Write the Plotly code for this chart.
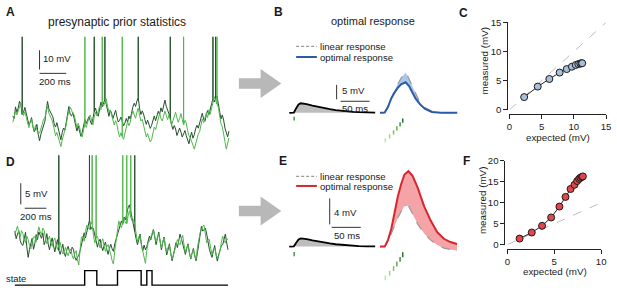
import plotly.graph_objects as go

W, H = 617, 292
FONT = "Liberation Sans, Arial, sans-serif"

# ---------------- data ----------------
# Panel A: two presynaptic membrane-potential traces (mV above rest), 10 ms steps
a_step_ms = 10
a_dark = [15.4, 14.1, 20.1, 17.2, 19.5, 23.0, 21.0, 16.2, 17.4, 19.8, 16.8, 13.0, 10.9, 12.0, 14.5, 9.9, 7.2, 8.6, 11.0, 5.8,
          2.5, 5.9, 8.1, 9.4, 12.6, 17.9, 22.9, 19.0, 17.5, 16.8, 14.9, 11.2, 9.6, 11.9, 8.8, 5.1, 3.0, 6.8, 9.1, 8.0,
          12.4, 16.9, 20.3, 16.0, 15.4, 17.1, 14.0, 9.6, 7.5, 10.2, 7.9, 4.8, 6.8, 10.8, 13.5, 11.4, 13.1, 15.0, 12.9, 11.0,
          14.0, 17.6, 19.4, 16.3, 15.2, 19.8, 22.6, 20.1, 22.0, 24.0, 21.5, 17.2, 15.2, 18.4, 16.8, 14.0, 17.0, 18.3, 14.9, 12.2,
          13.1, 14.8, 12.6, 10.2, 11.7, 14.1, 12.1, 15.3, 13.8, 17.6, 20.1, 22.0, 20.3, 23.1, 24.9, 19.2, 16.1, 18.0, 16.3, 13.4,
          11.0, 13.2, 11.2, 8.9, 10.5, 13.0, 15.4, 12.9, 15.2, 17.8, 16.1, 19.6, 17.5, 21.3, 23.6, 20.4, 18.2, 16.0, 14.5, 10.6,
          8.4, 10.4, 8.6, 5.2, 6.8, 9.1, 7.0, 4.4, 6.1, 7.8, 5.1, 2.6, 0.9, 4.3, 7.0, 3.8, 5.6, 8.7, 10.5, 9.0,
          11.2, 14.6, 16.8, 13.8, 12.6, 15.9, 18.2, 16.0, 18.2, 21.7, 24.5, 22.6, 24.5, 25.8, 22.4, 17.5, 13.8, 15.9, 13.3, 9.1,
          6.1, 4.5, 7.5]
a_light = [12.1, 16.2, 18.0, 15.9, 18.4, 20.9, 22.2, 18.1, 15.6, 17.6, 15.2, 11.4, 9.3, 12.5, 13.8, 10.1, 7.9, 10.4, 8.2, 5.9,
           6.5, 9.6, 11.0, 13.7, 14.2, 18.5, 20.1, 16.8, 15.6, 13.9, 11.7, 7.6, 5.1, 6.8, 4.0, 1.2, -0.5, 2.9, 5.4, 8.6,
           10.7, 15.2, 18.0, 19.9, 18.4, 16.4, 15.9, 11.8, 9.3, 11.6, 9.6, 6.1, 4.4, 8.2, 11.0, 9.4, 12.1, 14.3, 15.9, 12.6,
           10.7, 14.9, 17.3, 15.4, 17.7, 20.2, 18.7, 21.8, 20.5, 22.1, 24.3, 20.4, 17.7, 18.5, 15.9, 12.3, 10.7, 12.9, 11.0, 7.1,
           4.4, 6.6, 4.7, 3.2, 5.8, 9.4, 12.4, 10.3, 12.1, 15.7, 18.0, 15.9, 14.2, 17.3, 19.4, 15.6, 12.8, 13.6, 10.3, 6.9,
           4.4, 6.2, 4.0, 1.9, 3.0, 6.9, 9.6, 8.3, 11.4, 14.1, 16.6, 14.0, 12.8, 15.3, 18.0, 15.6, 13.5, 15.8, 13.1, 10.6,
           12.8, 15.9, 17.3, 14.4, 12.1, 14.0, 16.6, 13.5, 10.7, 13.1, 11.7, 7.8, 5.1, 4.1, 2.6, 0.2, -1.9, 1.0, 3.3, 5.9,
           7.2, 11.4, 13.8, 11.9, 14.2, 16.8, 14.5, 18.6, 16.3, 20.0, 22.9, 25.4, 23.3, 21.6, 20.1, 15.7, 11.4, 9.8, 6.8, 2.1,
           -1.9, 0.9, 4.0]
a_spikes_dark = [74, 614, 688, 940, 1177, 1502, 1517]
a_spikes_light = [540, 673, 821, 1280, 1532]
a_spike_peak = 56.5

# Panel D: traces with hidden state, 12.5 ms steps
d_step_ms = 12.5
d_dark = [8.2, 6.4, 7.5, 8.3, 6.0, 5.1, 4.8, 6.3, 7.9, 4.4, 2.0, 3.9, 5.2, 6.5, 3.9, 5.2, 7.4, 6.2, 8.0, 7.1,
          6.5, 7.8, 5.0, 5.9, 7.6, 5.2, 3.8, 5.4, 6.6, 4.8, 3.3, 4.9, 6.2, 3.7, 2.7, 4.3, 5.1, 3.0, 2.2, 3.8,
          4.6, 3.4, 2.9, 4.4, 3.9, 2.1, 1.3, 2.0, 2.5, 3.6, 5.0, 6.8, 7.8, 6.6, 8.1, 9.7, 10.8, 8.6, 9.2, 8.7,
          7.4, 5.6, 4.4, 5.7, 6.3, 4.6, 3.6, 4.8, 5.6, 3.9, 2.7, 4.1, 5.1, 4.0, 3.4, 5.2, 6.4, 7.2, 8.8, 9.5,
          10.6, 9.8, 11.5, 10.9, 12.4, 13.7, 14.4, 12.8, 11.6, 9.6, 8.1, 6.4, 5.0, 6.1, 7.5, 5.0, 3.5, 4.9, 3.8, 4.5,
          5.6, 7.0, 6.1, 7.4, 8.6, 6.8, 5.0, 6.5, 8.0, 5.9, 3.8, 5.4, 6.8, 4.5, 2.6, 3.8, 5.2, 3.0, 1.2, 2.6,
          4.0, 5.5, 4.3, 6.0, 7.5, 6.4, 5.0, 3.6, 2.7, 4.0, 5.2, 3.1, 1.6, 2.9, 4.1, 2.4, 1.2, 3.0, 5.0, 7.4,
          9.3, 8.2, 8.5, 8.9, 7.5, 5.4, 3.9, 2.8, 2.0, 3.5, 4.8, 2.6, 1.1, 2.6, 4.0, 4.8, 5.0, 6.2, 7.5, 5.4,
          3.8]
d_light = [7.4, 8.8, 9.4, 7.6, 6.8, 8.3, 7.6, 6.1, 5.4, 7.0, 6.2, 4.8, 4.0, 5.7, 6.8, 6.9, 5.6, 7.8, 9.2, 8.0,
           7.4, 8.9, 8.4, 6.4, 5.2, 6.3, 7.0, 5.5, 4.6, 5.9, 6.6, 4.8, 3.9, 4.9, 5.6, 3.9, 2.8, 3.2, 4.4, 3.1,
           2.4, 3.5, 4.0, 2.5, 1.6, 2.9, 3.6, 1.4, 0.2, 3.9, 6.8, 6.9, 5.8, 8.1, 9.6, 8.9, 8.6, 10.4, 9.8, 7.2,
           5.4, 6.6, 7.0, 5.3, 4.2, 5.6, 6.4, 4.7, 3.4, 4.5, 5.0, 3.8, 2.8, 1.2, 0.4, 3.6, 6.0, 8.9, 10.6, 9.5,
           9.0, 10.4, 11.2, 10.1, 10.0, 11.8, 13.0, 11.5, 10.6, 10.9, 9.8, 7.3, 5.6, 6.9, 7.2, 4.9, 3.4, 1.7, 0.6, 3.6,
           5.4, 5.8, 6.6, 7.7, 8.6, 6.9, 5.6, 6.8, 7.6, 5.8, 4.2, 5.7, 6.6, 4.6, 3.2, 4.4, 4.8, 2.9, 1.6, 2.4,
           3.6, 5.1, 6.2, 5.4, 5.0, 6.3, 7.2, 4.9, 3.2, 4.3, 5.0, 3.1, 1.8, 3.0, 3.8, 2.6, 1.6, 4.2, 6.6, 7.8,
           8.4, 9.3, 9.6, 7.2, 5.4, 6.3, 6.2, 4.1, 2.6, 3.9, 4.2, 2.8, 1.8, 2.4, 3.6, 5.6, 7.0, 6.0, 5.4, 6.4,
           6.2]
d_spikes_dark = [417, 704, 1130]
d_spikes_light = [722, 759, 1009, 1046, 1083]
d_spike_peak = 26.1
state_t = [0, 655, 769, 963, 1185, 1238, 1287, 2000]
state_v = [0, 1, 0, 1, 0, 1, 0, 0]

# Panels B/E: unitary EPSP (left) and response to a train (right)
epsp_t = [0, 5, 8, 12, 16, 20, 25, 30, 40, 50, 60, 70, 80, 90, 100, 110, 120, 135, 148]
b_epsp = [0, 0, 0.1, 1.6, 2.9, 3.3, 3.25, 3.0, 2.5, 2.0, 1.6, 1.25, 0.95, 0.7, 0.5, 0.35, 0.22, 0.1, 0.05]
e_epsp = [0, 0, 0.04, 0.6, 1.1, 1.27, 1.25, 1.15, 0.95, 0.77, 0.6, 0.48, 0.36, 0.27, 0.19, 0.13, 0.08, 0.04, 0.02]
stim_single = 8.5

b_t = [0, 8, 13.6, 19.3, 25, 30.6, 36.3, 44, 50, 56, 61, 69, 77, 89, 105, 133]
b_optimal = [0, 0.1, 2.0, 5.0, 7.0, 8.7, 9.9, 10.6, 9.3, 7.1, 5.0, 2.9, 1.4, 0.3, 0.05, 0]
b_linear = [0, 0.1, 2.2, 5.3, 7.7, 10.0, 12.0, 14.0, 11.8, 9.0, 6.8, 3.5, 1.8, 0.6, 0.1, 0]

e_t = [0, 8, 13.6, 19.3, 25, 30.6, 36.3, 42, 48.8, 56, 64.6, 76, 87.2, 98.6, 110, 121.2, 132.6]
e_optimal = [0, 0, 1.0, 2.7, 5.2, 7.7, 9.6, 11.1, 11.6, 10.9, 9.1, 6.2, 4.0, 2.2, 1.2, 0.7, 0.4]
e_linear = [0, 0, 0.7, 2.0, 3.2, 4.4, 5.4, 6.2, 6.3, 5.0, 3.5, 2.0, 1.0, 0.25, -0.25, -0.45, -0.6]

stim_train = [9.0, 16.5, 23.3, 28.9, 34.5, 39.1]
stim_colors = ["#bde8a8", "#9bd986", "#76c567", "#57ae4d", "#3e9141", "#2b6f31"]

# Panels C/F: measured vs expected
c_expected = [2.3, 4.4, 6.2, 7.8, 8.9, 9.7, 10.3, 10.7, 11.0, 11.2, 11.3]
c_measured = [2.2, 4.0, 5.3, 6.4, 7.0, 7.4, 7.7, 7.85, 7.95, 8.0, 8.0]
f_expected = [1.3, 2.6, 3.7, 4.67, 5.55, 6.2, 6.74, 7.16, 7.44, 7.65, 7.79, 7.96, 8.05]
f_measured = [1.45, 2.9, 4.5, 6.5, 9.1, 11.4, 13.3, 14.3, 15.2, 15.7, 16.0, 16.2, 16.3]

# ---------------- helpers ----------------
def fx(p):
    return p / W

def fy(p):
    return 1 - p / H


def spiky(vals, step, spikes, peak):
    idx = {round(s / step) for s in spikes}
    xs, ys = [], []
    for i, v in enumerate(vals):
        xs.append(i * step)
        ys.append(v)
        if i in idx:
            xs += [i * step, i * step]
            ys += [peak, v]
    return xs, ys


def hx(p0, p1, d0, d1, anchor):
    return dict(domain=[fx(p0), fx(p1)], range=[d0, d1], visible=False,
                fixedrange=True, anchor=anchor)


def hy(pb, pt, vb, vt, anchor):
    return dict(domain=[fy(pb), fy(pt)], range=[vb, vt], visible=False,
                fixedrange=True, anchor=anchor)


DARK = "#244f2c"
LIGHT = "#4fb74b"
fig = go.Figure()

# Panel A
for vals, sp, col in [(a_dark, a_spikes_dark, DARK), (a_light, a_spikes_light, LIGHT)]:
    xs, ys = spiky(vals, a_step_ms, sp, a_spike_peak)
    fig.add_trace(go.Scatter(x=xs, y=ys, mode="lines", line=dict(color=col, width=1),
                             xaxis="x", yaxis="y", hoverinfo="skip"))
# Panel D
for vals, sp, col in [(d_dark, d_spikes_dark, DARK), (d_light, d_spikes_light, LIGHT)]:
    xs, ys = spiky(vals, d_step_ms, sp, d_spike_peak)
    fig.add_trace(go.Scatter(x=xs, y=ys, mode="lines", line=dict(color=col, width=1),
                             xaxis="x2", yaxis="y2", hoverinfo="skip"))
fig.add_trace(go.Scatter(x=state_t, y=state_v, mode="lines", line=dict(color="black", width=1.4, shape="hv"),
                         xaxis="x2", yaxis="y3", hoverinfo="skip", cliponaxis=False))

# Panel B / E
for ep, xa, ya in [(b_epsp, "x3", "y4"), (e_epsp, "x5", "y5")]:
    fig.add_trace(go.Scatter(x=epsp_t, y=ep, mode="lines", fill="tozeroy", fillcolor="#bdbdbd",
                             line=dict(color="black", width=1.8), xaxis=xa, yaxis=ya, hoverinfo="skip"))

for t, opt, lin, col, fcol, xa, ya in [
        (b_t, b_optimal, b_linear, "#2c5aa8", "#a9c7ea", "x4", "y4"),
        (e_t, e_optimal, e_linear, "#d7262e", "#f4a3a6", "x6", "y5")]:
    fig.add_trace(go.Scatter(x=t, y=lin, mode="lines", line=dict(width=0, color=fcol),
                             xaxis=xa, yaxis=ya, hoverinfo="skip"))
    fig.add_trace(go.Scatter(x=t, y=opt, mode="lines", fill="tonexty", fillcolor=fcol,
                             line=dict(width=0, color=fcol), xaxis=xa, yaxis=ya, hoverinfo="skip"))
    fig.add_trace(go.Scatter(x=t, y=lin, mode="lines", line=dict(color="#9a9a9a", width=1.2, dash="dash"),
                             xaxis=xa, yaxis=ya, hoverinfo="skip"))
    fig.add_trace(go.Scatter(x=t, y=opt, mode="lines", line=dict(color=col, width=2),
                             xaxis=xa, yaxis=ya, hoverinfo="skip"))

# Panel C / F
for ex, me, top, fill, xa, ya in [(c_expected, c_measured, 15, "#a9bfd9", "x7", "y6"),
                                  (f_expected, f_measured, 10, "#e2464d", "x8", "y7")]:
    fig.add_trace(go.Scatter(x=[0, top], y=[0, top], mode="lines",
                             line=dict(color="#bdbdbd", width=1, dash="dash"),
                             xaxis=xa, yaxis=ya, hoverinfo="skip"))
    fig.add_trace(go.Scatter(x=ex, y=me, mode="lines+markers", line=dict(color="#222", width=1),
                             marker=dict(size=7, color=fill, line=dict(color="#1a1a1a", width=1)),
                             xaxis=xa, yaxis=ya, hoverinfo="skip", cliponaxis=False))

shapes = []


def seg(xref, yref, x0, y0, x1, y1, color="black", width=1.2, dash=None):
    ln = dict(color=color, width=width)
    if dash:
        ln["dash"] = dash
    shapes.append(dict(type="line", xref=xref, yref=yref, x0=x0, y0=y0, x1=x1, y1=y1, line=ln))


# scale bars
seg("x", "y", 200, 39.5, 200, 49.5, "#333", 1)
seg("x", "y", 200, 37.5, 400, 37.5, "#333", 1)
seg("x2", "y2", 55.6, 14.5, 55.6, 19.5, "#333", 1)
seg("x2", "y2", 92.6, 13.6, 296, 13.6, "#333", 1)
seg("x3", "y4", 81.6, 4.67, 81.6, 9.67, "#333", 1)
seg("x3", "y4", 88.4, 4.0, 138.4, 4.0, "#333", 1)
seg("x5", "y5", 69.7, 3.41, 69.7, 7.41, "#333", 1)
seg("x5", "y5", 73.1, 2.96, 123.1, 2.96, "#333", 1)

# stimulus ticks
seg("x3", "y4", stim_single, -1.33, stim_single, -2.67, "#3f9a44", 1.5)
seg("x5", "y5", stim_single, -0.84, stim_single, -1.48, "#3f9a44", 1.5)
for k, (st, c) in enumerate(zip(stim_train, stim_colors)):
    top_b = 137.3 - 4.1 * k
    seg("x4", "y4", st, (111 - top_b) / 3, st, (111 - top_b - 4.4) / 3, c, 1.5)
    top_e = 280 - 4.8 * k
    seg("x6", "y5", st, (250 - top_e) / 6.75, st, (250 - top_e - 5) / 6.75, c, 1.5)

# legends
for yb, col in [(42, None), (53, "#2c5aa8"), (177, None), (187, "#d7262e")]:
    if col is None:
        seg("paper", "paper", fx(297), fy(yb), fx(318), fy(yb), "#9a9a9a", 1.2, "3px,2px")
    else:
        seg("paper", "paper", fx(297), fy(yb), fx(318), fy(yb), col, 2)

# arrows
for cy in [80.5, 213]:
    pts = [(239, cy - 5.5), (261, cy - 5.5), (261, cy - 15), (282, cy), (261, cy + 15),
           (261, cy + 5.5), (239, cy + 5.5)]
    path = "M " + " L ".join(f"{fx(a):.5f},{fy(b):.5f}" for a, b in pts) + " Z"
    shapes.append(dict(type="path", xref="paper", yref="paper", path=path,
                       fillcolor="#b8b8b8", line=dict(width=0)))

anns = []


def txt(x, y, s, size=9.6, xa="left", bold=False, angle=0, color="#1a1a1a"):
    anns.append(dict(x=fx(x), y=fy(y), xref="paper", yref="paper", text=f"<b>{s}</b>" if bold else s,
                     showarrow=False, xanchor=xa, yanchor="middle", textangle=angle, borderpad=0,
                     font=dict(family=FONT, size=size, color=color)))


txt(2, 6.5, "A", 12, bold=True)
txt(115.5, 17, "presynaptic prior statistics", 12, "center")
txt(40, 55, "10 mV")
txt(35, 78, "200 ms")
txt(2, 162, "D", 12, bold=True)
txt(21, 195, "5 mV")
txt(16, 218.5, "200 ms")
txt(2, 283.5, "state", 9.4)
txt(274, 6.5, "B", 12, bold=True)
txt(374.5, 16, "optimal response", 11, "center")
txt(320, 42, "linear response")
txt(320, 53, "optimal response")
txt(342, 87.5, "5 mV")
txt(357, 106, "50 ms", xa="center")
txt(461, 7.5, "C", 12, bold=True)
txt(279, 161, "E", 12, bold=True)
txt(320, 177, "linear response")
txt(320, 187.5, "optimal response")
txt(334, 215, "4 mV")
txt(348.5, 239, "50 ms", xa="center")
txt(465, 161, "F", 12, bold=True)
txt(562, 136.5, "expected (mV)", 9.8, "center")
txt(488, 57, "measured (mV)", 9.8, "center", angle=-90)
txt(559, 275.5, "expected (mV)", 9.8, "center")
txt(486, 202, "measured (mV)", 9.8, "center", angle=-90)


def vis_axis(p0, p1, rng, tv, pos, is_x):
    d = dict(range=rng, tickvals=tv, ticktext=[str(v) for v in tv], ticks="outside", ticklen=4,
             tickwidth=1, tickcolor="#222", showline=True, linecolor="#222", linewidth=1,
             showgrid=False, zeroline=False, fixedrange=True, anchor="free",
             tickfont=dict(family=FONT, size=9.6, color="#1a1a1a"))
    if is_x:
        d["domain"] = [fx(p0), fx(p1)]
        d["position"] = fy(pos)
    else:
        d["domain"] = [fy(p0), fy(p1)]
        d["position"] = fx(pos)
    return d


fig.update_layout(
    width=W, height=H, margin=dict(l=0, r=0, t=0, b=0), showlegend=False,
    paper_bgcolor="white", plot_bgcolor="rgba(0,0,0,0)",
    font=dict(family=FONT),
    xaxis=hx(8, 232, -14.8, 1642.8, "y"),
    yaxis=hy(150, 28, -2.5, 58.5, "x"),
    xaxis2=hx(8, 232, -37.04, 2037.2, "y2"),
    yaxis2=hy(272, 150, -0.4545, 27.27, "x2"),
    yaxis3=hy(292, 270, -0.1333, 1.3333, "x2"),
    xaxis3=hx(285, 380, -8.5, 153, "y4"),
    xaxis4=hx(380, 462, -3.4, 136, "y4"),
    yaxis4=hy(150, 30, -13, 27, "x3"),
    xaxis5=hx(285, 380, -8.5, 153, "y5"),
    xaxis6=hx(380, 462, -3.4, 136, "y5"),
    yaxis5=hy(292, 160, -6.222, 13.333, "x5"),
    xaxis7=vis_axis(513, 611, [0, 15], [0, 5, 10, 15], 112, True),
    yaxis6=vis_axis(108, 17, [0, 15], [0, 5, 10, 15], 511, False),
    xaxis8=vis_axis(511, 606, [0, 10], [0, 5, 10], 252, True),
    yaxis7=vis_axis(248, 161, [0, 20], [0, 5, 10, 15, 20], 508, False),
    shapes=shapes, annotations=anns,
)

fig.write_html("out.html", config={"displayModeBar": False},
               post_script="document.body.style.margin='0';document.body.style.overflow='hidden';")
